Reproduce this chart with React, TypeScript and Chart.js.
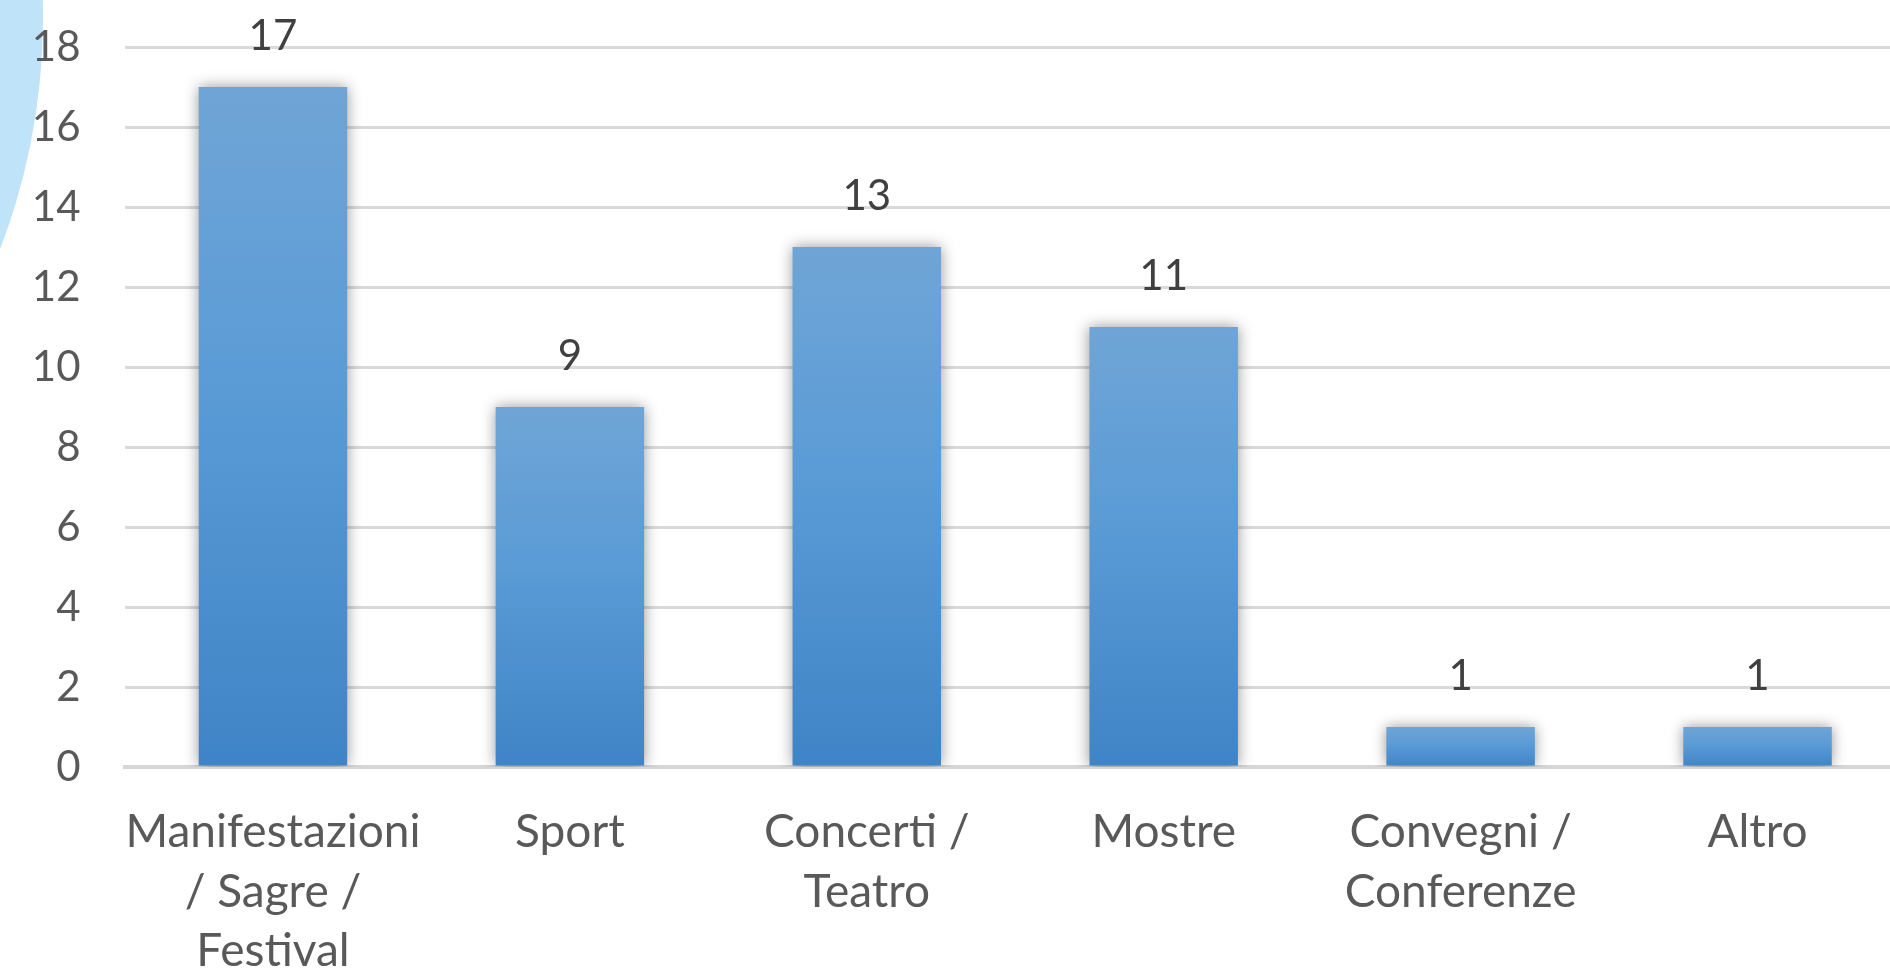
import React, { useEffect, useRef } from "react";
import { Chart, registerables } from "chart.js";

Chart.register(...registerables);

const categories: string[][] = [
  ["Manifestazioni", "/ Sagre /", "Festival"],
  ["Sport"],
  ["Concerti /", "Teatro"],
  ["Mostre"],
  ["Convegni /", "Conferenze"],
  ["Altro"],
];
const values: number[] = [17, 9, 13, 11, 1, 1];
const yMin = 0;
const yMax = 18;
const yStep = 2;

const FONT = "Lato, 'Open Sans', sans-serif";

const barDecor = {
  id: "barDecor",
  beforeDatasetsDraw(chart: any) {
    const ctx = chart.ctx;
    ctx.save();
    ctx.shadowColor = "rgba(0,0,0,0.42)";
    ctx.shadowBlur = 14;
    ctx.shadowOffsetX = 0;
    ctx.shadowOffsetY = 0;
  },
  afterDatasetsDraw(chart: any) {
    const ctx = chart.ctx;
    ctx.restore();
    const meta = chart.getDatasetMeta(0);
    ctx.save();
    ctx.fillStyle = "#404040";
    ctx.font = `42px ${FONT}`;
    ctx.textAlign = "center";
    ctx.textBaseline = "alphabetic";
    meta.data.forEach((bar: any, i: number) => {
      ctx.fillText(String(values[i]), bar.x, bar.y - 37);
    });
    ctx.restore();
  },
};

export default function App() {
  const ref = useRef<HTMLCanvasElement | null>(null);

  useEffect(() => {
    if (!ref.current) return;
    const chart = new Chart(ref.current, {
      type: "bar",
      data: {
        labels: categories,
        datasets: [
          {
            data: values,
            backgroundColor: (c: any) => {
              const chart = c.chart;
              if (!chart.chartArea || c.type !== "data") return "#5b9bd5";
              const ys = chart.scales.y;
              const top = ys.getPixelForValue(c.raw);
              const bottom = ys.getPixelForValue(0);
              const g = chart.ctx.createLinearGradient(0, top, 0, bottom);
              g.addColorStop(0, "#6fa5d6");
              g.addColorStop(0.45, "#5a9bd6");
              g.addColorStop(1, "#3f84c6");
              return g;
            },
            borderWidth: 0,
            categoryPercentage: 1,
            barPercentage: 0.5,
          },
        ],
      },
      options: {
        responsive: false,
        animation: false,
        layout: { padding: { top: 47, left: 0, right: 0, bottom: 0 } },
        plugins: {
          legend: { display: false },
          tooltip: { enabled: false },
        },
        scales: {
          x: {
            grid: { display: false, drawTicks: false },
            border: { display: true, color: "#d6d6d6", width: 4 },
            ticks: {
              color: "#595959",
              font: { family: FONT, size: 46, lineHeight: 1.29 },
              padding: 36,
              maxRotation: 0,
              minRotation: 0,
              autoSkip: false,
            },
            afterFit: (s: any) => {
              s.height = 203;
              s.paddingLeft = 0;
              s.paddingRight = 0;
            },
          },
          y: {
            min: yMin,
            max: yMax,
            grid: { color: "#d9d9d9", lineWidth: 3, drawTicks: false },
            border: { display: false },
            ticks: {
              stepSize: yStep,
              color: "#595959",
              font: { family: FONT, size: 42 },
              padding: 44,
            },
            afterFit: (s: any) => {
              s.width = 124.5;
              s.paddingTop = 0;
              s.paddingBottom = 0;
            },
          },
        },
      },
      plugins: [barDecor],
    });
    return () => chart.destroy();
  }, []);

  return (
    <div
      style={{
        position: "fixed",
        left: 0,
        top: 0,
        width: 1890,
        height: 970,
        overflow: "hidden",
        background: "#ffffff",
      }}
    >
      <div
        style={{
          position: "absolute",
          left: -1243,
          top: -625,
          width: 1286,
          height: 1286,
          borderRadius: "50%",
          background: "#bfe4fa",
        }}
      />
      <canvas
        ref={ref}
        width={1906}
        height={970}
        style={{ position: "absolute", left: 0, top: 0, width: 1906, height: 970 }}
      />
    </div>
  );
}
